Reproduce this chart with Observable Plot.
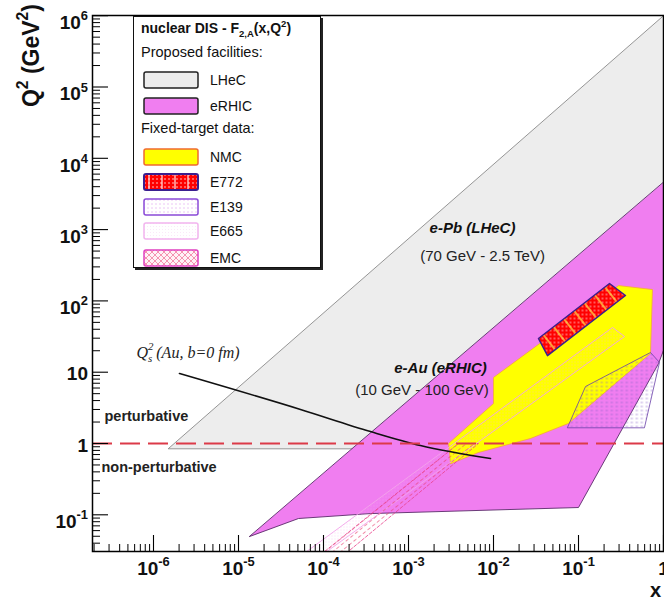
<!DOCTYPE html>
<html><head><meta charset="utf-8">
<script src="https://cdn.jsdelivr.net/npm/d3@7"></script>
<script src="https://cdn.jsdelivr.net/npm/@observablehq/plot@0.6"></script>
<style>
body{margin:0;background:#fff;font-family:"Liberation Sans",Arial,sans-serif;}
#wrap{position:relative;width:664px;height:599px;overflow:hidden;background:#fff;}
#legend{position:absolute;left:133px;top:16px;width:188px;height:252px;background:#fff;border:1.2px solid #111;box-shadow:2px 2px 0 #222;box-sizing:border-box;}
.lg{position:absolute;white-space:nowrap;font-size:14px;line-height:16px;color:#111;}
.lg sub,.lg sup{font-size:0.68em;line-height:0;}
.sw{position:absolute;left:143px;width:56px;height:18px;}
</style></head><body>
<div id="wrap"></div>
<script>
// ---------- data (x = Bjorken x, y = Q^2 in GeV^2) ----------
const lhec  = [[1.5e-6,0.85],[1,1.0e6],[1,23.7],[0.208,0.85]];
const erhic = [[1.35e-5,0.0496],[5.08e-5,0.0887],[3.57e-4,0.104],[0.1,0.1265],[0.873,13.2],[1,20.2],[1,4580]];
const nmc   = [[3.12e-3,0.524],[2.96e-3,1.0],[0.01,3.64],[0.01,8.43],[0.296,164],[0.742,144.5],[0.703,18.3],[0.0762,1.91],[0.0272,1.175],[6.66e-3,0.748]];
const e772  = [[0.2316,175.4],[0.357,119],[0.0432,17.1],[0.0338,29.7]];
const e139  = [[0.0742,1.68],[0.121,6.3],[0.703,18.9],[0.897,13.7],[0.598,1.68]];
const e665  = [[4.56e-5,0.0229],[0.251,42.4],[0.348,31.7],[7.84e-5,0.0229]];
const emc   = [[7.63e-5,0.0229],[3.87e-3,1.0],[6.66e-3,1.0],[1.46e-4,0.0229]];
const qsLine = [[2.02e-6,9.59],[5.36e-5,3.0],[3.57e-4,1.47],[1.38e-3,0.937],[9.22e-3,0.616]];
const pertBoundary = [1];

const xMajor  = [1e-6,1e-5,1e-4,1e-3,1e-2,1e-1,1];
const xLabels = ["10^{-6}","10^{-5}","10^{-4}","10^{-3}","10^{-2}","10^{-1}","1"];
const yMajor  = [0.1,1,10,100,1e3,1e4,1e5,1e6];
const yLabels = ["10^{-1}","1","10","10^{2}","10^{3}","10^{4}","10^{5}","10^{6}"];

const facilityNotes = [
  {x:5.66e-3, y:1036, label:"e-Pb (LHeC)"},
  {x:2.38e-3, y:11.27, label:"e-Au (eRHIC)"}
];
const energyNotes = [
  {x:7.43e-3, y:419, label:"(70 GeV - 2.5 TeV)"},
  {x:1.44e-3, y:5.54, label:"(10 GeV - 100 GeV)"}
];
const regionNotes = [
  {x:2.65e-7, y:2.39, label:"perturbative"},
  {x:2.44e-7, y:0.46, label:"non-perturbative"}
];
const qsNote = [{x:6.31e-7, y:18.9, label:"Q^{2}_{s} (Au, b=0 fm)"}];

// ---------- scales ----------
const xDomain = [Math.pow(10,-6.7176), 1];
const yDomain = [Math.pow(10,-1.5147), Math.pow(10,6.0028)];
const W = 664, H = 599, mL = 92, mR = 1, mT = 15, mB = 48;
const frameW = W - mL - mR, frameH = H - mT - mB;

const minors = (lo, hi, dom) => d3.range(lo, hi).flatMap(e => d3.range(2,10).map(k => k*Math.pow(10,e)))
  .filter(v => v >= dom[0] && v <= dom[1]);
const xMinor = minors(-7, 0, xDomain);
const yMinor = minors(-2, 6, yDomain);

const px = d => d[0], py = d => d[1];
const poly = (data, o) => Plot.line(data, {x: px, y: py, curve: "linear-closed", ...o});

const yLab = yMajor.map((v,i) => ({v, label: yLabels[i]}));
const xLab = xMajor.map((v,i) => ({v, label: xLabels[i]}));

const plot = Plot.plot({
  width: W, height: H,
  marginLeft: mL, marginRight: mR, marginTop: mT, marginBottom: mB,
  x: {type: "log", domain: xDomain, axis: null},
  y: {type: "log", domain: yDomain, axis: null},
  style: {fontFamily: "'Liberation Sans', Arial, sans-serif", background: "#fff", fontSize: "14px"},
  marks: [
    poly(lhec,  {fill: "#ededed", stroke: "#8a8a8a", strokeWidth: 0.9}),
    poly(erhic, {fill: "#f07ef0", stroke: "#5a2a6a", strokeWidth: 0.9}),
    poly(nmc,   {fill: "#ffff00", stroke: "#f2a838", strokeWidth: 0.8}),
    poly(e665,  {fill: "url(#pE665)", stroke: "#f3a4ea", strokeWidth: 0.9, clip: true}),
    poly(emc,   {fill: "url(#pEMC)", stroke: "#e8408c", strokeWidth: 0.8, strokeDasharray: "3,2", clip: true}),
    poly(e139,  {fill: "url(#pE139)", stroke: "#6a40a8", strokeWidth: 0.8, clip: true}),
    poly(e772,  {fill: "url(#p772)"}),
    poly(e772,  {fill: "url(#p772s)", stroke: "#3b1f8f", strokeWidth: 1.5}),
    Plot.line(qsLine, {x: px, y: py, stroke: "#111", strokeWidth: 1.6, curve: "monotone-x"}),
    Plot.ruleY(pertBoundary, {stroke: "#dc3a48", strokeWidth: 2, strokeDasharray: "20,8"}),
    // ticks (inward)
    Plot.tickY(yMajor, {y: d => d, insetRight: frameW - 16, stroke: "#000", strokeWidth: 1.1}),
    Plot.tickY(yMinor, {y: d => d, insetRight: frameW - 8, stroke: "#000", strokeWidth: 1}),
    Plot.tickX(xMajor, {x: d => d, insetTop: frameH - 16, stroke: "#000", strokeWidth: 1.1}),
    Plot.tickX(xMinor, {x: d => d, insetTop: frameH - 7, stroke: "#000", strokeWidth: 1}),
    Plot.frame({stroke: "#000", strokeWidth: 1.5}),
    // tick labels
    Plot.text(xLab, {x: "v", text: "label", frameAnchor: "bottom", dy: 23, fontSize: 19, fontWeight: "bold", fill: "#111"}),
    Plot.text(yLab.filter(d => d.label.includes("^")), {y: "v", text: "label", frameAnchor: "left", dx: -4.5, dy: 7.4, textAnchor: "end", fontSize: 19, fontWeight: "bold", fill: "#111"}),
    Plot.text(yLab.filter(d => !d.label.includes("^")), {y: "v", text: "label", frameAnchor: "left", dx: -4.5, dy: 2, textAnchor: "end", fontSize: 19, fontWeight: "bold", fill: "#111"}),
    // annotations
    Plot.text(facilityNotes, {x: "x", y: "y", text: "label", fontSize: 15, fontWeight: "bold", fontStyle: "italic", fill: "#111"}),
    Plot.text(energyNotes, {x: "x", y: "y", text: "label", fontSize: 15, fill: "#222"}),
    Plot.text(regionNotes, {x: "x", y: "y", text: "label", textAnchor: "start", fontSize: 14.5, fontWeight: "bold", fill: "#222"}),
    Plot.text(qsNote, {x: "x", y: "y", text: "label", textAnchor: "start", fontSize: 16, fontStyle: "italic", fontFamily: "'Liberation Serif','Times New Roman',serif", fill: "#222"})
  ]
});

const wrap = document.getElementById("wrap");
wrap.appendChild(plot);

// pattern definitions
const svg = d3.select(plot);
const defs = svg.insert("defs", ":first-child");
let p = defs.append("pattern").attr("id","p772").attr("patternUnits","userSpaceOnUse").attr("width",4).attr("height",4);
p.append("rect").attr("width",4).attr("height",4).attr("fill","#ff0000");
p.append("circle").attr("cx",2).attr("cy",2).attr("r",0.7).attr("fill","#fff");
p = defs.append("pattern").attr("id","p772s").attr("patternUnits","userSpaceOnUse").attr("width",13).attr("height",13).attr("patternTransform","rotate(-38)");
p.append("line").attr("x1",1).attr("x2",1).attr("y1",0).attr("y2",13).attr("stroke","#ffd84a").attr("stroke-width",1.4);
p = defs.append("pattern").attr("id","p772v").attr("patternUnits","userSpaceOnUse").attr("width",13).attr("height",13);
p.append("line").attr("x1",6).attr("x2",6).attr("y1",0).attr("y2",13).attr("stroke","#ffe8e8").attr("stroke-width",1.2);
p = defs.append("pattern").attr("id","pE139").attr("patternUnits","userSpaceOnUse").attr("width",5).attr("height",4);
p.append("line").attr("x1",0).attr("x2",2.5).attr("y1",2).attr("y2",2).attr("stroke","#8a64c8").attr("stroke-width",0.6);
p = defs.append("pattern").attr("id","pE139leg").attr("patternUnits","userSpaceOnUse").attr("width",4).attr("height",4);
p.append("rect").attr("width",4).attr("height",4).attr("fill","#fff");
p.append("line").attr("x1",0).attr("x2",2).attr("y1",2).attr("y2",2).attr("stroke","#e6b8f4").attr("stroke-width",0.8);
p = defs.append("pattern").attr("id","pE665").attr("patternUnits","userSpaceOnUse").attr("width",3).attr("height",3);
p.append("circle").attr("cx",1.5).attr("cy",1.5).attr("r",0.45).attr("fill","#f4a8ee");
p = defs.append("pattern").attr("id","pE665leg").attr("patternUnits","userSpaceOnUse").attr("width",3).attr("height",3);
p.append("rect").attr("width",3).attr("height",3).attr("fill","#fff");
p.append("circle").attr("cx",1.5).attr("cy",1.5).attr("r",0.45).attr("fill","#f8d0f4");
p = defs.append("pattern").attr("id","pEMC").attr("patternUnits","userSpaceOnUse").attr("width",6).attr("height",5).attr("patternTransform","rotate(-39)");
p.append("path").attr("d","M0,2.5L3.5,2.5").attr("stroke","#e8406e").attr("stroke-width",0.6).attr("fill","none");
p = defs.append("pattern").attr("id","pEMCleg").attr("patternUnits","userSpaceOnUse").attr("width",6).attr("height",6);
p.append("rect").attr("width",6).attr("height",6).attr("fill","#fff2f6");
p.append("path").attr("d","M0,0L6,6M0,6L6,0").attr("stroke","#f06a90").attr("stroke-width",0.7).attr("fill","none");

// axis titles
svg.append("text").attr("transform","translate(39,4) rotate(-90)").attr("text-anchor","end")
  .attr("font-size",23).attr("font-weight","bold").attr("fill","#111").text("Q^{2} (GeV^{2})");
svg.append("text").attr("x",661).attr("y",597).attr("text-anchor","end")
  .attr("font-size",20).attr("font-weight","bold").attr("fill","#111").text("x");

// superscript / subscript rendering
function richify(root) {
  const NS = "http://www.w3.org/2000/svg";
  root.querySelectorAll("text").forEach(t => {
    const s = t.textContent;
    if (!/[\^_]\{/.test(s)) return;
    const fs = parseFloat(getComputedStyle(t).fontSize) || 12;
    const parts = s.split(/(\^\{[^}]*\}|_\{[^}]*\})/).filter(q => q);
    while (t.firstChild) t.removeChild(t.firstChild);
    let shift = 0, lastSup = 0, prevSup = false;
    for (const q of parts) {
      const ts = document.createElementNS(NS, "tspan");
      let target = 0, txt = q, small = false, dx = 0;
      if (q[0] === "^") { txt = q.slice(2,-1); target = -0.47*fs; small = true; }
      else if (q[0] === "_") { txt = q.slice(2,-1); target = 0.3*fs; small = true; if (prevSup) dx = -lastSup; }
      const dy = target - shift;
      if (dy) ts.setAttribute("dy", dy);
      if (dx) ts.setAttribute("dx", dx);
      if (small) ts.setAttribute("font-size", 0.68*fs);
      ts.textContent = txt;
      t.appendChild(ts);
      shift = target;
      prevSup = q[0] === "^";
      if (prevSup) lastSup = ts.getComputedTextLength();
    }
  });
}
richify(plot);

// legend (overlay)
const legendRows = [
  {name:"LHeC",  top:71,  fill:"#ededed",        stroke:"#222",    sw:1.5},
  {name:"eRHIC", top:97,  fill:"#f07ef0",        stroke:"#222",    sw:1.5},
  {name:"NMC",   top:148, fill:"#ffff00",        stroke:"#f06a30", sw:1.5},
  {name:"E772",  top:173, fill:"url(#p772)",     stroke:"#3b1f8f", sw:2, extra:"url(#p772v)"},
  {name:"E139",  top:198, fill:"url(#pE139leg)", stroke:"#8a4ad8", sw:1.5},
  {name:"E665",  top:222, fill:"url(#pE665leg)", stroke:"#f2b4ee", sw:1.5},
  {name:"EMC",   top:249, fill:"url(#pEMCleg)",  stroke:"#e040c0", sw:1.5}
];
let html = '<div id="legend"></div>';
html += '<div class="lg" style="left:141px;top:20px;font-weight:bold;">nuclear DIS - F<sub>2,A</sub>(x,Q<sup>2</sup>)</div>';
html += '<div class="lg" style="left:141px;top:44px;font-size:14.5px;">Proposed facilities:</div>';
html += '<div class="lg" style="left:141px;top:120px;font-size:14.5px;">Fixed-target data:</div>';
for (const r of legendRows) {
  html += `<svg class="sw" style="top:${r.top}px" width="56" height="18"><rect x="1" y="1" width="54" height="16" rx="2" fill="${r.fill}"/>` +
    (r.extra ? `<rect x="1" y="1" width="54" height="16" rx="2" fill="${r.extra}"/>` : "") +
    `<rect x="1" y="1" width="54" height="16" rx="2" fill="none" stroke="${r.stroke}" stroke-width="${r.sw}"/></svg>`;
  html += `<div class="lg" style="left:210px;top:${r.top + 1}px;">${r.name}</div>`;
}
wrap.insertAdjacentHTML("beforeend", html);
</script>
</body></html>
